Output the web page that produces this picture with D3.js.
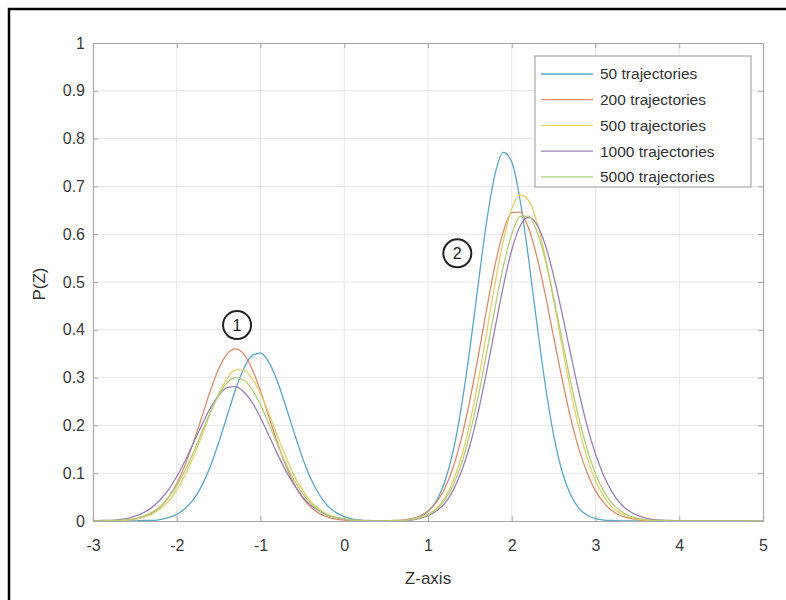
<!DOCTYPE html>
<html><head><meta charset="utf-8">
<script src="https://cdn.jsdelivr.net/npm/d3@7"></script>
<style>html,body{margin:0;padding:0;background:#fff;}svg{display:block;}</style>
</head><body>
<svg id="chart" width="786" height="600"></svg>
<script>
const zGrid = [
 -3.0,-2.9,-2.8,-2.7,-2.6,-2.5,-2.4,-2.3,-2.2,-2.1,
 -2.0,-1.9,-1.8,-1.7,-1.6,-1.5,-1.4,-1.3,-1.2,-1.1,
 -1.0,-0.9,-0.8,-0.7,-0.6,-0.5,-0.4,-0.3,-0.2,-0.1,
 0.0,0.1,0.2,0.3,0.4,0.5,0.6,0.7,0.8,0.9,
 1.0,1.1,1.2,1.3,1.4,1.5,1.6,1.7,1.8,1.9,
 2.0,2.1,2.2,2.3,2.4,2.5,2.6,2.7,2.8,2.9,
 3.0,3.1,3.2,3.3,3.4,3.5,3.6,3.7,3.8,3.9,
 4.0,4.1,4.2,4.3,4.4,4.5,4.6,4.7,4.8,4.9,
 5.0];

const seriesNames = ["50 trajectories","200 trajectories","500 trajectories","1000 trajectories","5000 trajectories"];

const p50 = [
 0,0,0,0,0,0,0.001,0.001,0.003,0.007,
 0.014,0.026,0.045,0.074,0.114,0.164,0.219,0.274,0.319,0.346,
 0.351,0.332,0.293,0.241,0.186,0.133,0.089,0.056,0.032,0.018,
 0.009,0.004,0.002,0.001,0,0,0,0.001,0.003,0.009,
 0.020,0.042,0.082,0.146,0.240,0.360,0.496,0.626,0.725,0.771,
 0.751,0.671,0.550,0.413,0.285,0.180,0.104,0.056,0.027,0.012,
 0.005,0.002,0.001,0,0,0,0,0,0,0,
 0,0,0,0,0,0,0,0,0,0,
 0];
const p200 = [
 0,0,0,0.001,0.002,0.004,0.008,0.016,0.029,0.049,
 0.078,0.117,0.165,0.218,0.272,0.318,0.349,0.360,0.349,0.318,
 0.272,0.218,0.165,0.117,0.078,0.049,0.029,0.016,0.008,0.004,
 0.002,0.001,0,0,0,0,0.001,0.002,0.005,0.010,
 0.021,0.039,0.068,0.112,0.174,0.253,0.345,0.443,0.535,0.606,
 0.645,0.646,0.613,0.553,0.474,0.385,0.298,0.218,0.152,0.101,
 0.063,0.038,0.021,0.011,0.006,0.003,0.001,0.001,0,0,
 0,0,0,0,0,0,0,0,0,0,
 0];
const p500 = [
 0,0,0,0.001,0.002,0.004,0.008,0.014,0.025,0.041,
 0.065,0.096,0.135,0.179,0.225,0.266,0.298,0.316,0.316,0.298,
 0.266,0.225,0.179,0.135,0.096,0.065,0.041,0.025,0.014,0.008,
 0.004,0.002,0.001,0,0,0,0,0.001,0.003,0.007,
 0.014,0.026,0.048,0.084,0.135,0.206,0.293,0.394,0.496,0.587,
 0.653,0.682,0.671,0.626,0.553,0.462,0.366,0.275,0.196,0.132,
 0.084,0.051,0.029,0.016,0.008,0.004,0.002,0.001,0,0,
 0,0,0,0,0,0,0,0,0,0,
 0];
const p1000 = [
 0,0.001,0.001,0.003,0.005,0.010,0.017,0.028,0.044,0.065,
 0.093,0.126,0.164,0.201,0.236,0.263,0.279,0.281,0.270,0.248,
 0.216,0.179,0.141,0.106,0.076,0.051,0.033,0.021,0.012,0.007,
 0.004,0.002,0.001,0,0,0,0,0.001,0.002,0.005,
 0.011,0.021,0.037,0.064,0.104,0.158,0.229,0.312,0.403,0.492,
 0.567,0.617,0.635,0.620,0.578,0.513,0.435,0.352,0.271,0.199,
 0.140,0.094,0.060,0.036,0.021,0.012,0.006,0.003,0.002,0.001,
 0,0,0,0,0,0,0,0,0,0,
 0];
const p5000 = [
 0,0,0.001,0.001,0.003,0.005,0.010,0.018,0.030,0.049,
 0.074,0.106,0.144,0.186,0.227,0.263,0.289,0.300,0.295,0.275,
 0.243,0.203,0.161,0.121,0.086,0.058,0.037,0.022,0.013,0.007,
 0.004,0.002,0.001,0,0,0,0.001,0.001,0.003,0.006,
 0.013,0.024,0.044,0.075,0.120,0.183,0.261,0.351,0.446,0.533,
 0.600,0.637,0.638,0.606,0.546,0.468,0.381,0.294,0.216,0.150,
 0.099,0.062,0.037,0.021,0.011,0.006,0.003,0.001,0.001,0,
 0,0,0,0,0,0,0,0,0,0,
 0];

const xTicks = [-3,-2,-1,0,1,2,3,4,5];
const xTickLabels = ["-3","-2","-1","0","1","2","3","4","5"];
const yTicks = [0,0.1,0.2,0.3,0.4,0.5,0.6,0.7,0.8,0.9,1];
const yTickLabels = ["0","0.1","0.2","0.3","0.4","0.5","0.6","0.7","0.8","0.9","1"];
const annotations = [{label:"1", z:-1.28, p:0.41},{label:"2", z:1.35, p:0.56}];

const seriesValues = [p50,p200,p500,p1000,p5000];
const colors = ["#5ba6c6","#d98c6c","#e3cf6e","#9b80b4","#b3cd7c"];

const svg = d3.select("#chart");
const font = "'Liberation Sans', Arial, Helvetica, sans-serif";
svg.append("rect").attr("width",786).attr("height",600).attr("fill","#fff");
svg.append("rect").attr("x",9).attr("y",9).attr("width",800).attr("height",800)
  .attr("fill","none").attr("stroke","#000").attr("stroke-width",2.5);

const L=93, R=763, T=43, B=521;
const x = d3.scaleLinear().domain([-3,5]).range([L,R]);
const y = d3.scaleLinear().domain([0,1]).range([B,T]);

const g = svg.append("g");
// grid
g.append("g").selectAll("line").data(xTicks.slice(1,-1)).join("line")
  .attr("x1",d=>x(d)).attr("x2",d=>x(d)).attr("y1",T).attr("y2",B)
  .attr("stroke","#e6e6e6").attr("stroke-width",1);
g.append("g").selectAll("line").data(yTicks.slice(1,-1)).join("line")
  .attr("y1",d=>y(d)).attr("y2",d=>y(d)).attr("x1",L).attr("x2",R)
  .attr("stroke","#e6e6e6").attr("stroke-width",1);

// curves
const line = d3.line().x((d,i)=>x(zGrid[i])).y(d=>y(d)).curve(d3.curveMonotoneX);
g.append("g").selectAll("path").data(seriesValues).join("path")
  .attr("d",d=>line(d)).attr("fill","none")
  .attr("stroke",(d,i)=>colors[i]).attr("stroke-width",1.3);

// axes
const ax = d3.axisBottom(x).tickValues(xTicks).tickSize(-5).tickPadding(19)
  .tickFormat((d,i)=>xTickLabels[i]);
const ay = d3.axisLeft(y).tickValues(yTicks).tickSize(-5).tickPadding(8)
  .tickFormat((d,i)=>yTickLabels[i]);
const axB = svg.append("g").attr("transform",`translate(0,${B})`).call(ax);
const axL = svg.append("g").attr("transform",`translate(${L},0)`).call(ay);
const axT = svg.append("g").attr("transform",`translate(0,${T})`).call(d3.axisTop(x).tickValues(xTicks).tickSize(-5).tickFormat(""));
const axR = svg.append("g").attr("transform",`translate(${R},0)`).call(d3.axisRight(y).tickValues(yTicks).tickSize(-5).tickFormat(""));
[axB,axL,axT,axR].forEach(a=>{
  a.select(".domain").attr("stroke","#a8a8a8").attr("stroke-width",1.2);
  a.selectAll(".tick line").attr("stroke","#a8a8a8");
  a.selectAll("text").attr("font-family",font).attr("font-size",16).attr("fill","#3a3a3a");
});

// axis labels
svg.append("text").attr("x",(L+R)/2).attr("y",584).attr("text-anchor","middle")
  .attr("font-family",font).attr("font-size",17).attr("fill","#333").text("Z-axis");
svg.append("text").attr("transform",`translate(45,${(T+B)/2+2}) rotate(-90)`).attr("text-anchor","middle")
  .attr("font-family",font).attr("font-size",17).attr("fill","#333").text("P(Z)");

// annotations
const ann = svg.append("g").selectAll("g").data(annotations).join("g")
  .attr("transform",d=>`translate(${x(d.z)},${y(d.p)})`);
ann.append("circle").attr("r",14).attr("fill","#fff").attr("stroke","#222").attr("stroke-width",2);
ann.append("text").attr("text-anchor","middle").attr("dy","0.36em")
  .attr("font-family",font).attr("font-size",16).attr("fill","#222").text(d=>d.label);

// legend
const lg = svg.append("g").attr("transform","translate(535,56)");
lg.append("rect").attr("width",216).attr("height",131).attr("fill","#fff")
  .attr("stroke","#a8a8a8").attr("stroke-width",1.2);
const items = lg.selectAll("g").data(seriesNames).join("g")
  .attr("transform",(d,i)=>`translate(0,${18+i*25.7})`);
items.append("line").attr("x1",6).attr("x2",58).attr("stroke",(d,i)=>colors[i]).attr("stroke-width",1.3);
items.append("text").attr("x",65).attr("dy","0.35em").attr("font-family",font)
  .attr("font-size",15.5).attr("fill","#333").text(d=>d);
</script>
</body></html>
